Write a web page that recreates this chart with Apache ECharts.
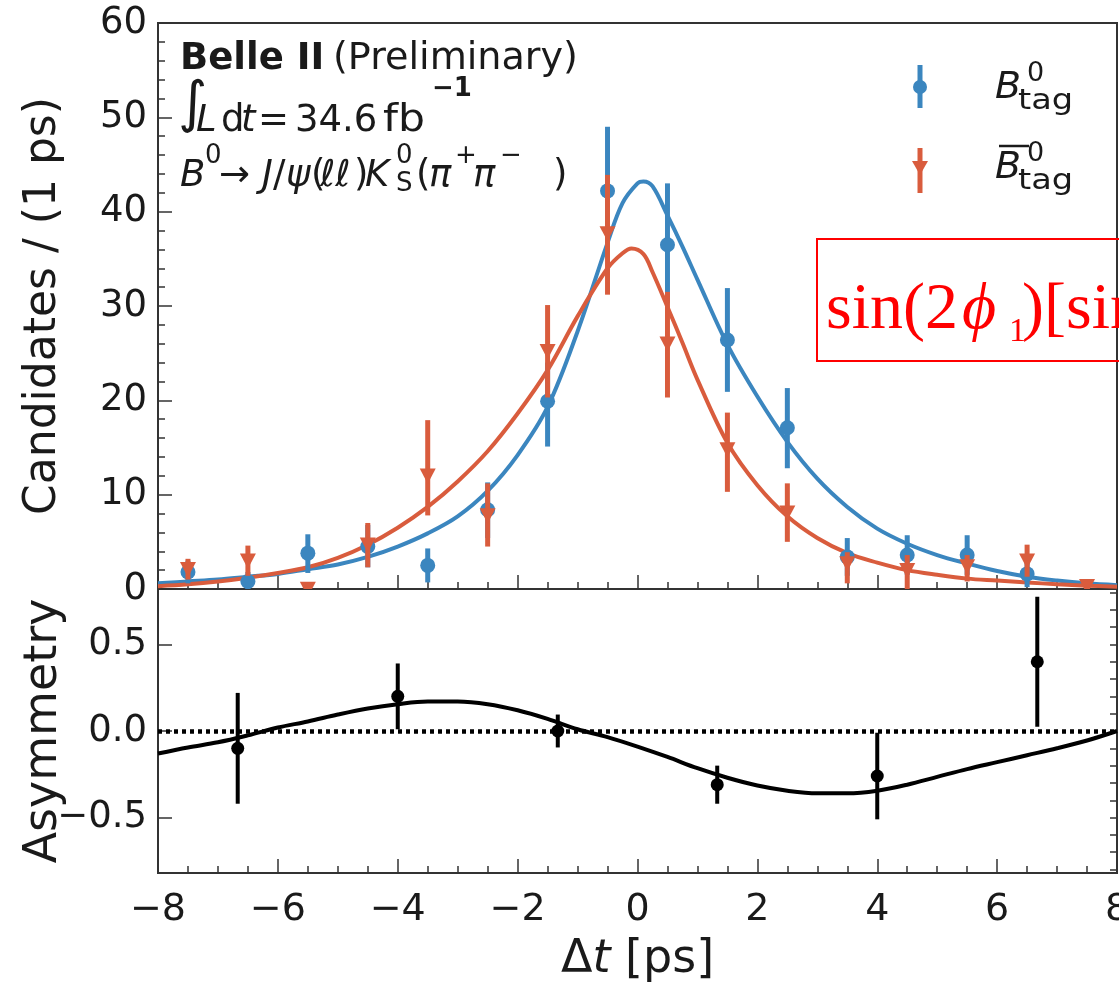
<!DOCTYPE html>
<html><head><meta charset="utf-8">
<script src="https://cdn.jsdelivr.net/npm/echarts/dist/echarts.min.js"></script>
<style>html,body{margin:0;padding:0;background:#fff}#c{width:1119px;height:982px}</style>
</head><body><div id="c"></div>
<script>
// ---------------- data ----------------
const binCenters = [-7.5,-6.5,-5.5,-4.5,-3.5,-2.5,-1.5,-0.5,0.5,1.5,2.5,3.5,4.5,5.5,6.5,7.5];
const blueVals   = [1.8, 0.8, 3.8, 4.5, 2.5, 8.4, 19.9, 42.2, 36.5, 26.4, 17.1, 3.4, 3.6, 3.6, 1.6, null];
const blueErrLo  = [1.2, 0.8, 2.1, 2.2, 1.8, 3.0, 4.8, 6.5, 6.2, 5.5, 4.3, 2.0, 2.1, 2.1, 1.4, 0];
const blueErrHi  = [1.2, 1.0, 2.0, 2.3, 1.8, 2.9, 4.1, 6.8, 6.5, 5.5, 4.2, 2.0, 2.1, 2.1, 1.4, 0];
const redVals    = [2.1, 3.0, 0.0, 4.7, 12.0, 7.8, 25.2, 37.7, 26.0, 14.8, 8.1, 2.7, 2.0, 2.4, 3.0, 0.3];
const redErrLo   = [1.1, 1.6, 0.0, 2.4, 4.2, 3.3, 4.9, 6.5, 5.7, 4.5, 3.1, 2.1, 2.0, 1.6, 1.7, 0.3];
const redErrHi   = [1.1, 1.6, 0.0, 2.3, 5.9, 3.4, 4.9, 6.2, 5.5, 3.9, 3.1, 1.2, 1.6, 1.2, 1.7, 0.6];

const blueCurveX = [-8,-7.5,-7,-6.5,-6,-5.5,-5,-4.5,-4,-3.5,-3,-2.5,-2,-1.5,-1,-0.5,-0.25,0,0.1,0.25,0.5,0.75,1,1.5,2,2.5,3,3.5,4,4.5,5,5.5,6,6.5,7,7.5,8];
const blueCurveY = [0.6,0.8,1.0,1.3,1.6,2.1,2.6,3.4,4.5,5.9,7.7,10.4,14.2,19.3,27.3,36.7,40.9,43.0,43.2,42.7,39.6,36.3,32.8,25.9,20.4,15.6,11.7,8.7,6.4,4.8,3.6,2.7,1.9,1.3,0.9,0.6,0.4];
const redCurveX  = [-8,-7.5,-7,-6.5,-6,-5.5,-5,-4.5,-4,-3.5,-3,-2.5,-2,-1.5,-1,-0.5,-0.25,-0.1,0.1,0.25,0.5,0.75,1,1.5,2,2.5,3,3.5,4,4.5,5,5.5,6,6.5,7,7.5,8];
const redCurveY  = [0.3,0.5,0.8,1.2,1.7,2.3,3.3,4.7,6.5,8.7,11.4,14.6,18.6,23.2,28.9,34.0,35.6,36.1,35.5,33.6,29.9,26.1,22.2,15.5,11.0,7.7,5.4,3.8,2.8,2.0,1.5,1.1,0.9,0.7,0.5,0.35,0.25];

const asymX      = [-6.67,-4,-1.33,1.33,4,6.67];
const asymVals   = [-0.10, 0.20, 0.00, -0.31, -0.26, 0.40];
const asymErr    = [0.32, 0.19, 0.095, 0.11, 0.25, 0.375];
const asymCurveX = [-8,-7.5,-7,-6.5,-6,-5.5,-5,-4.5,-4,-3.5,-3,-2.5,-2,-1.5,-1,-0.5,0,0.5,1,1.5,2,2.5,3,3.5,4,4.5,5,5.5,6,6.5,7,7.5,8];
const asymCurveY = [-0.13,-0.095,-0.065,-0.025,0.02,0.055,0.095,0.13,0.155,0.17,0.17,0.155,0.12,0.07,0.01,-0.035,-0.09,-0.15,-0.215,-0.27,-0.315,-0.345,-0.36,-0.36,-0.345,-0.31,-0.265,-0.22,-0.18,-0.14,-0.10,-0.055,0.0];

const xTicks       = [-8,-6,-4,-2,0,2,4,6,8];
const asymTicks    = [-0.5, 0, 0.5];
const asymMinor    = [-0.8,-0.7,-0.6,-0.5,-0.4,-0.3,-0.2,-0.1,0,0.1,0.2,0.3,0.4,0.5,0.6,0.7,0.8];

// ---------------- styling ----------------
const BLUE = '#3b86bf', RED = '#d95c3d', INK = '#333';
const FONT = 'DejaVu Sans';

function errBars(xs, ys, lo, hi, color, width, xi, yi, z) {
  const data = [];
  xs.forEach((x, i) => {
    if (ys[i] == null) return;
    if (lo[i] === 0 && hi[i] === 0) return;
    data.push([x, ys[i] - lo[i], ys[i] + hi[i]]);
  });
  return {
    type: 'custom', xAxisIndex: xi, yAxisIndex: yi, z: z, silent: true, clip: true,
    data: data, encode: { x: 0, y: [1, 2] },
    renderItem: function (params, api) {
      const p1 = api.coord([api.value(0), api.value(1)]);
      const p2 = api.coord([api.value(0), api.value(2)]);
      return { type: 'line', shape: { x1: p1[0], y1: p1[1], x2: p2[0], y2: p2[1] },
               style: { stroke: color, lineWidth: width } };
    }
  };
}
function markers(xs, ys, kind, color, size, xi, yi, z) {
  return {
    type: 'custom', xAxisIndex: xi, yAxisIndex: yi, z: z, silent: true, clip: true,
    data: pts(xs, ys), encode: { x: 0, y: 1 },
    renderItem: function (params, api) {
      const c = api.coord([api.value(0), api.value(1)]);
      const h = size / 2;
      if (kind === 'circle') {
        return { type: 'circle', shape: { cx: c[0], cy: c[1], r: h }, style: { fill: color } };
      }
      return { type: 'polygon', shape: { points: [[c[0] - h, c[1] - h * 0.9], [c[0] + h, c[1] - h * 0.9], [c[0], c[1] + h * 1.0]] },
               style: { fill: color } };
    }
  };
}
function pts(xs, ys) { return xs.map((x, i) => [x, ys[i]]).filter(p => p[1] != null); }

function T(x, baseline, text, size, o) {
  o = o || {};
  return {
    type: 'text', x: x, y: baseline - 0.3 * size, z: 100, silent: true,
    scaleX: o.sx || 1, scaleY: o.sy || 1,
    style: {
      text: text, fontSize: size, fontFamily: o.family || FONT,
      fontStyle: o.italic ? 'italic' : 'normal', fontWeight: o.bold ? 'bold' : 'normal',
      fill: o.color || '#1a1a1a', align: 'left', verticalAlign: 'middle'
    }
  };
}

const axisTickStyle = { color: INK, width: 1.5 };
const chart = echarts.init(document.getElementById('c'), null, { renderer: 'canvas' });

const graphics = [
  // annotation block
  T(180, 70, 'Belle II', 37, { bold: true }),
  T(333, 70, '(Preliminary)', 37, { sx: 1.03 }),
  T(178, 123, '\u222B', 56),
  T(196, 132, 'L', 37, { italic: true }),
  T(221, 132, 'd', 37),
  T(241, 132, 't', 37, { italic: true }),
  T(258, 132, '=', 37),
  T(295, 132, '34.6', 37),
  T(383, 132, 'fb', 37, { sx: 1.15 }),
  T(432, 97, '\u22121', 26, { bold: true }),
  T(180, 187, 'B', 37, { italic: true }),
  T(205, 164, '0', 26),
  T(219, 187, '\u2192', 37),
  T(262, 187, 'J', 37, { italic: true }),
  T(273, 187, '/', 37),
  T(286, 187, '\u03C8', 37, { italic: true }),
  T(311, 187, '(', 37),
  T(320, 187, '\u2113\u2113', 37, { italic: true }),
  T(354, 187, ')', 37),
  T(365, 187, 'K', 37, { italic: true }),
  T(396, 164, '0', 26),
  T(396, 192, 'S', 26),
  T(416, 187, '(', 37),
  T(429, 187, '\u03C0', 37, { italic: true }),
  T(455, 164, '+', 26),
  T(473, 187, '\u03C0', 37, { italic: true }),
  T(500, 164, '\u2212', 26),
  T(553, 187, ')', 37),
  // legend
  { type: 'line', shape: { x1: 920, y1: 65, x2: 920, y2: 108 }, style: { stroke: BLUE, lineWidth: 5 }, z: 100, silent: true },
  { type: 'circle', shape: { cx: 920, cy: 87, r: 7 }, style: { fill: BLUE }, z: 100, silent: true },
  { type: 'line', shape: { x1: 920, y1: 148, x2: 920, y2: 193 }, style: { stroke: RED, lineWidth: 5 }, z: 100, silent: true },
  { type: 'polygon', shape: { points: [[912, 161], [928, 161], [920, 175]] }, style: { fill: RED }, z: 100, silent: true },
  T(995, 100, 'B', 38, { italic: true }),
  T(1027, 82, '0', 27),
  T(1018, 110, 'tag', 28, { sx: 1.2 }),
  T(995, 180, 'B', 38, { italic: true }),
  { type: 'line', shape: { x1: 999, y1: 146, x2: 1029, y2: 146 }, style: { stroke: '#1a1a1a', lineWidth: 2.5 }, z: 100, silent: true },
  T(1027, 162, '0', 27),
  T(1018, 190, 'tag', 28, { sx: 1.2 }),
  // red overlay box
  { type: 'rect', shape: { x: 817, y: 239, width: 320, height: 122 }, style: { fill: 'none', stroke: '#ff0000', lineWidth: 2 }, z: 100, silent: true },
  T(826, 330, 'sin(2', 66, { family: 'Liberation Serif', color: '#ff0000' }),
  T(962, 330, '\u03D5', 66, { family: 'Liberation Serif', italic: true, color: '#ff0000' }),
  T(1009, 342, '1', 34, { family: 'Liberation Serif', color: '#ff0000' }),
  T(1022, 330, ')[sin', 66, { family: 'Liberation Serif', color: '#ff0000' })
];

const option = {
  animation: false,
  backgroundColor: '#fff',
  textStyle: { fontFamily: FONT },
  grid: [
    { left: 158, top: 23, width: 959, height: 566, show: true, borderColor: INK, borderWidth: 2, backgroundColor: 'transparent',
      containLabel: false, outerBoundsMode: 'none' },
    { left: 158, top: 589, width: 959, height: 284, show: true, borderColor: INK, borderWidth: 2, backgroundColor: 'transparent',
      containLabel: false, outerBoundsMode: 'none' }
  ],
  xAxis: [
    { type: 'value', gridIndex: 0, min: -8, max: 8, interval: 2,
      axisLine: { show: true, onZero: false, lineStyle: { color: INK, width: 2 } },
      axisTick: { show: true, inside: true, length: 14, lineStyle: axisTickStyle },
      minorTick: { show: true, splitNumber: 4, length: 7, lineStyle: axisTickStyle },
      axisLabel: { show: false }, splitLine: { show: false } },
    { type: 'value', gridIndex: 1, min: -8, max: 8, interval: 2,
      axisLine: { show: true, onZero: false, lineStyle: { color: INK, width: 2 } },
      axisTick: { show: true, inside: true, length: 14, lineStyle: axisTickStyle },
      minorTick: { show: true, splitNumber: 4, length: 7, lineStyle: axisTickStyle },
      axisLabel: { show: true, fontSize: 38, fontFamily: FONT, color: '#1a1a1a', margin: 18,
                   customValues: xTicks, formatter: v => String(v).replace('-', '\u2212') },
      splitLine: { show: false },
      name: '{d|\u0394}{t|t}{d| [ps]}', nameLocation: 'middle', nameGap: 64, nameMoveOverlap: false,
      nameTextStyle: { rich: { d: { fontSize: 46, fontFamily: FONT, color: '#1a1a1a' },
                               t: { fontSize: 46, fontFamily: FONT, fontStyle: 'italic', color: '#1a1a1a' } } } }
  ],
  yAxis: [
    { type: 'value', gridIndex: 0, min: 0, max: 60, interval: 10,
      axisLine: { show: true, onZero: false, lineStyle: { color: INK, width: 2 } },
      axisTick: { show: true, inside: true, length: 14, lineStyle: axisTickStyle },
      minorTick: { show: true, splitNumber: 5, length: 7, lineStyle: axisTickStyle },
      axisLabel: { show: true, fontSize: 37, fontFamily: FONT, color: '#1a1a1a', margin: 11, showMinLabel: true, showMaxLabel: true },
      splitLine: { show: false },
      name: 'Candidates / (1 ps)', nameLocation: 'middle', nameRotate: 90, nameGap: 92, nameMoveOverlap: false,
      nameTextStyle: { fontSize: 44, fontFamily: FONT, color: '#1a1a1a' } },
    { type: 'value', gridIndex: 1, min: -0.82, max: 0.82,
      axisLine: { show: true, onZero: false, lineStyle: { color: INK, width: 2 } },
      axisTick: { show: true, inside: true, length: 14, lineStyle: axisTickStyle, customValues: asymTicks },
      axisLabel: { show: true, fontSize: 37, fontFamily: FONT, color: '#1a1a1a', margin: 11, customValues: asymTicks,
                   formatter: v => (v < 0 ? '\u2212' : '') + Math.abs(v).toFixed(1) },
      splitLine: { show: false },
      name: 'Asymmetry', nameLocation: 'middle', nameRotate: 90, nameGap: 91, nameMoveOverlap: false,
      nameTextStyle: { fontSize: 46, fontFamily: FONT, color: '#1a1a1a' } },
    { type: 'value', gridIndex: 1, min: -0.82, max: 0.82,
      axisLine: { show: false, onZero: false },
      axisTick: { show: true, inside: true, length: 7, lineStyle: axisTickStyle, customValues: asymMinor },
      axisLabel: { show: false }, splitLine: { show: false } }
  ],
  series: [
    { type: 'line', xAxisIndex: 0, yAxisIndex: 0, z: 2, data: pts(blueCurveX, blueCurveY), showSymbol: false, symbol: 'none',
      smooth: 0.35, lineStyle: { color: BLUE, width: 4 }, silent: true },
    { type: 'line', xAxisIndex: 0, yAxisIndex: 0, z: 2, data: pts(redCurveX, redCurveY), showSymbol: false, symbol: 'none',
      smooth: 0.35, lineStyle: { color: RED, width: 4 }, silent: true },
    errBars(binCenters, blueVals, blueErrLo, blueErrHi, BLUE, 5, 0, 0, 3),
    markers(binCenters, blueVals, 'circle', BLUE, 15, 0, 0, 4),
    errBars(binCenters, redVals, redErrLo, redErrHi, RED, 5, 0, 0, 5),
    markers(binCenters, redVals, 'triangle', RED, 16, 0, 0, 6),
    { type: 'line', xAxisIndex: 1, yAxisIndex: 1, z: 3, data: pts(asymCurveX, asymCurveY), showSymbol: false, symbol: 'none',
      smooth: 0.35, lineStyle: { color: '#000', width: 4 }, silent: true,
      markLine: { silent: true, symbol: ['none', 'none'], label: { show: false },
                  lineStyle: { color: '#000', width: 4.5, type: [4, 4] }, data: [{ yAxis: 0 }] } },
    errBars(asymX, asymVals, asymErr, asymErr, '#000', 4, 1, 1, 4),
    markers(asymX, asymVals, 'circle', '#000', 13, 1, 1, 5)
  ],
  graphic: graphics
};
chart.setOption(option);
</script>
</body></html>
